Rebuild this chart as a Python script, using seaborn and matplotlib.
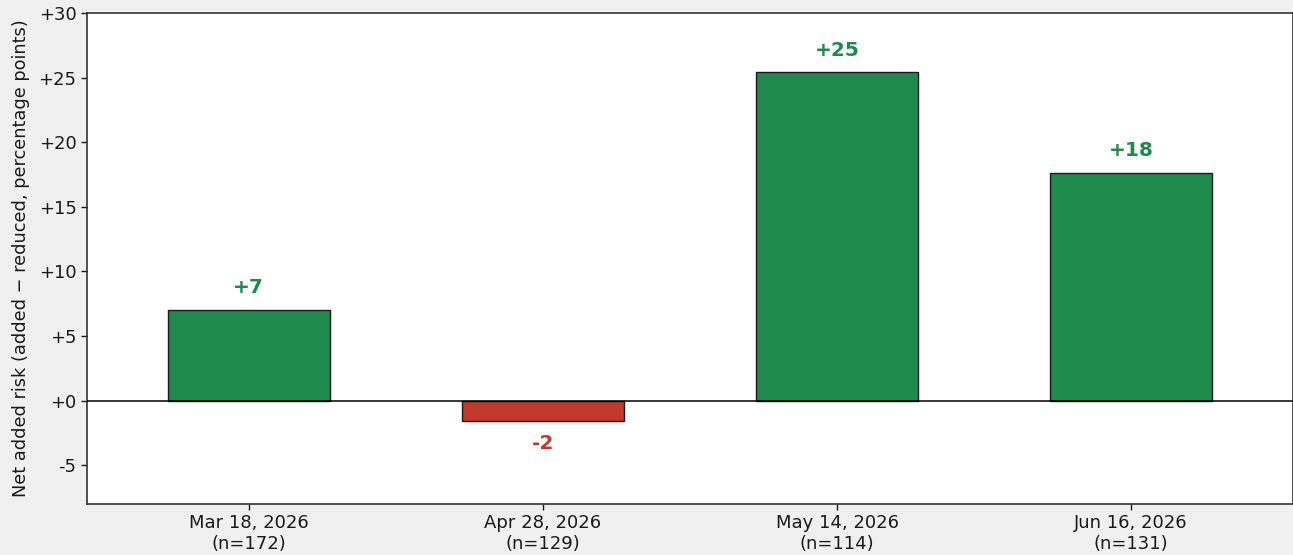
import matplotlib
matplotlib.use("Agg")
import matplotlib.pyplot as plt
import matplotlib.ticker as mticker
import seaborn as sns
import pandas as pd

# Survey waves and net added risk (added minus reduced, in percentage points)
dates = ["Mar 18, 2026", "Apr 28, 2026", "May 14, 2026", "Jun 16, 2026"]
sample_sizes = [172, 129, 114, 131]
net_risk = [7.0, -1.6, 25.4, 17.6]

POS_COLOR = "#1e8b4c"
NEG_COLOR = "#c0392b"
INK = "#1a1a1a"

sns.set_style("ticks")
plt.rcParams["font.family"] = ["DejaVu Sans"]
plt.rcParams["text.color"] = INK
plt.rcParams["axes.labelcolor"] = INK
plt.rcParams["xtick.color"] = INK
plt.rcParams["ytick.color"] = INK

categories = [f"{d}\n(n={n})" for d, n in zip(dates, sample_sizes)]
df = pd.DataFrame({
    "wave": categories,
    "net": net_risk,
    "sign": ["pos" if v >= 0 else "neg" for v in net_risk],
})

fig = plt.figure(figsize=(12.93, 5.55), dpi=100, facecolor="#f0f0f0")
ax = fig.add_axes([0.0673, 0.0919, 0.9327, 0.8847])
ax.set_facecolor("white")

sns.barplot(
    data=df, x="wave", y="net", hue="sign",
    palette={"pos": POS_COLOR, "neg": NEG_COLOR}, saturation=1,
    width=0.55, edgecolor=INK, linewidth=1.0,
    legend=False, ax=ax, dodge=False,
)

ax.axhline(0, color="black", linewidth=1.1, zorder=3)

# Value labels above positive bars, below negative ones
for i, v in enumerate(net_risk):
    color = POS_COLOR if v >= 0 else NEG_COLOR
    txt = f"{v:+.0f}"
    if v >= 0:
        ax.text(i, v + 1.0, txt, ha="center", va="bottom",
                color=color, fontsize=14.5, fontweight="bold")
    else:
        ax.text(i, v - 1.0, txt, ha="center", va="top",
                color=color, fontsize=14.5, fontweight="bold")

ax.set_xlim(-0.55, 3.55)
ax.set_ylim(-8, 30)
ax.yaxis.set_major_locator(mticker.MultipleLocator(5))
ax.yaxis.set_major_formatter(
    mticker.FuncFormatter(lambda y, _: f"+{y:.0f}" if y >= 0 else f"{y:.0f}")
)
ax.set_xlabel("")
ax.set_ylabel("Net added risk (added \u2212 reduced, percentage points)",
              fontsize=12.8, labelpad=6)
ax.tick_params(axis="both", labelsize=13, length=4, width=1.0)

for s in ax.spines.values():
    s.set_visible(True)
    s.set_color("#333333")
    s.set_linewidth(1.2)

fig.savefig("out.png", dpi=100, facecolor=fig.get_facecolor())
